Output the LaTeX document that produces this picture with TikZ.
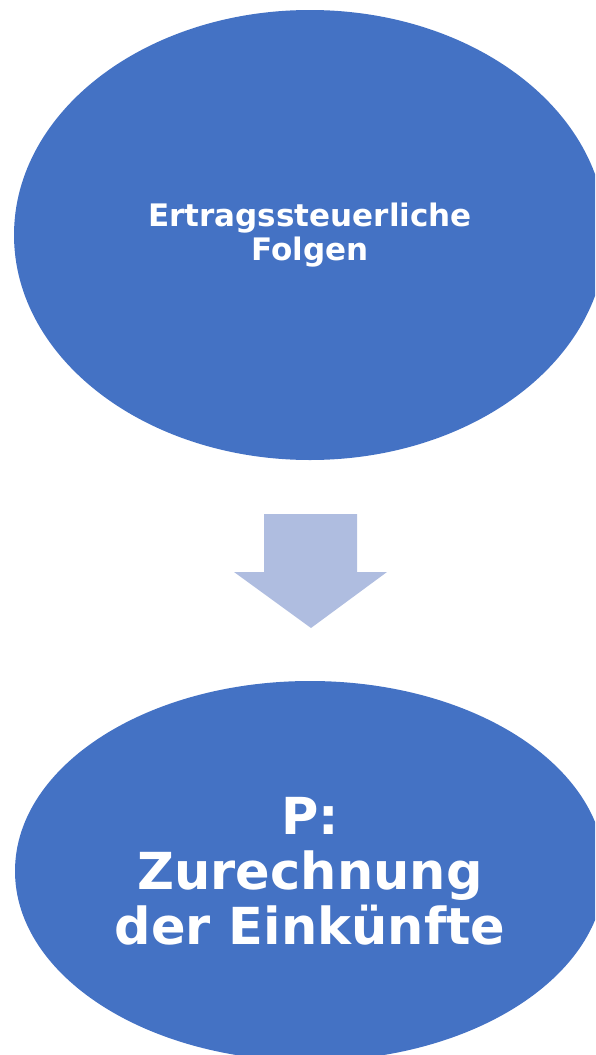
\documentclass[tikz,border=0pt]{standalone}
\usepackage{fontspec}
\setmainfont{DejaVu Sans}
\usetikzlibrary{shapes.geometric,positioning}
\definecolor{ovalblue}{RGB}{68,114,196}
\definecolor{arrowblue}{RGB}{175,189,224}
\tikzset{
  oval/.style={ellipse, fill=ovalblue, draw=none, inner sep=0pt,
               text=white, align=center, font=\bfseries},
  downarr/.style={fill=arrowblue, draw=none},
}

\begin{document}
\begin{tikzpicture}[x=1pt,y=-1pt]
    \useasboundingbox (0,0) rectangle (595,1055);
    \clip (0,0) rectangle (595,1055);
    \node[oval, minimum width=592pt, minimum height=450pt,
          font=\bfseries\fontsize{31}{34}\selectfont] (folgen) at (310,235)
          {Ertragssteuerliche\\Folgen};
    \node[oval, minimum width=590pt, minimum height=380pt,
          font=\bfseries\fontsize{51}{55}\selectfont] (zurechnung) at (310,871)
          {P:\\Zurechnung\\der Einkünfte};
    % block arrow between the two ovals
    \coordinate (tip) at (311,628);
    \fill[downarr] (264,514) -- (357,514) -- (357,572) -- (387,572)
      -- (tip) -- (234,572) -- (264,572) -- cycle;
  \end{tikzpicture}
\end{document}
